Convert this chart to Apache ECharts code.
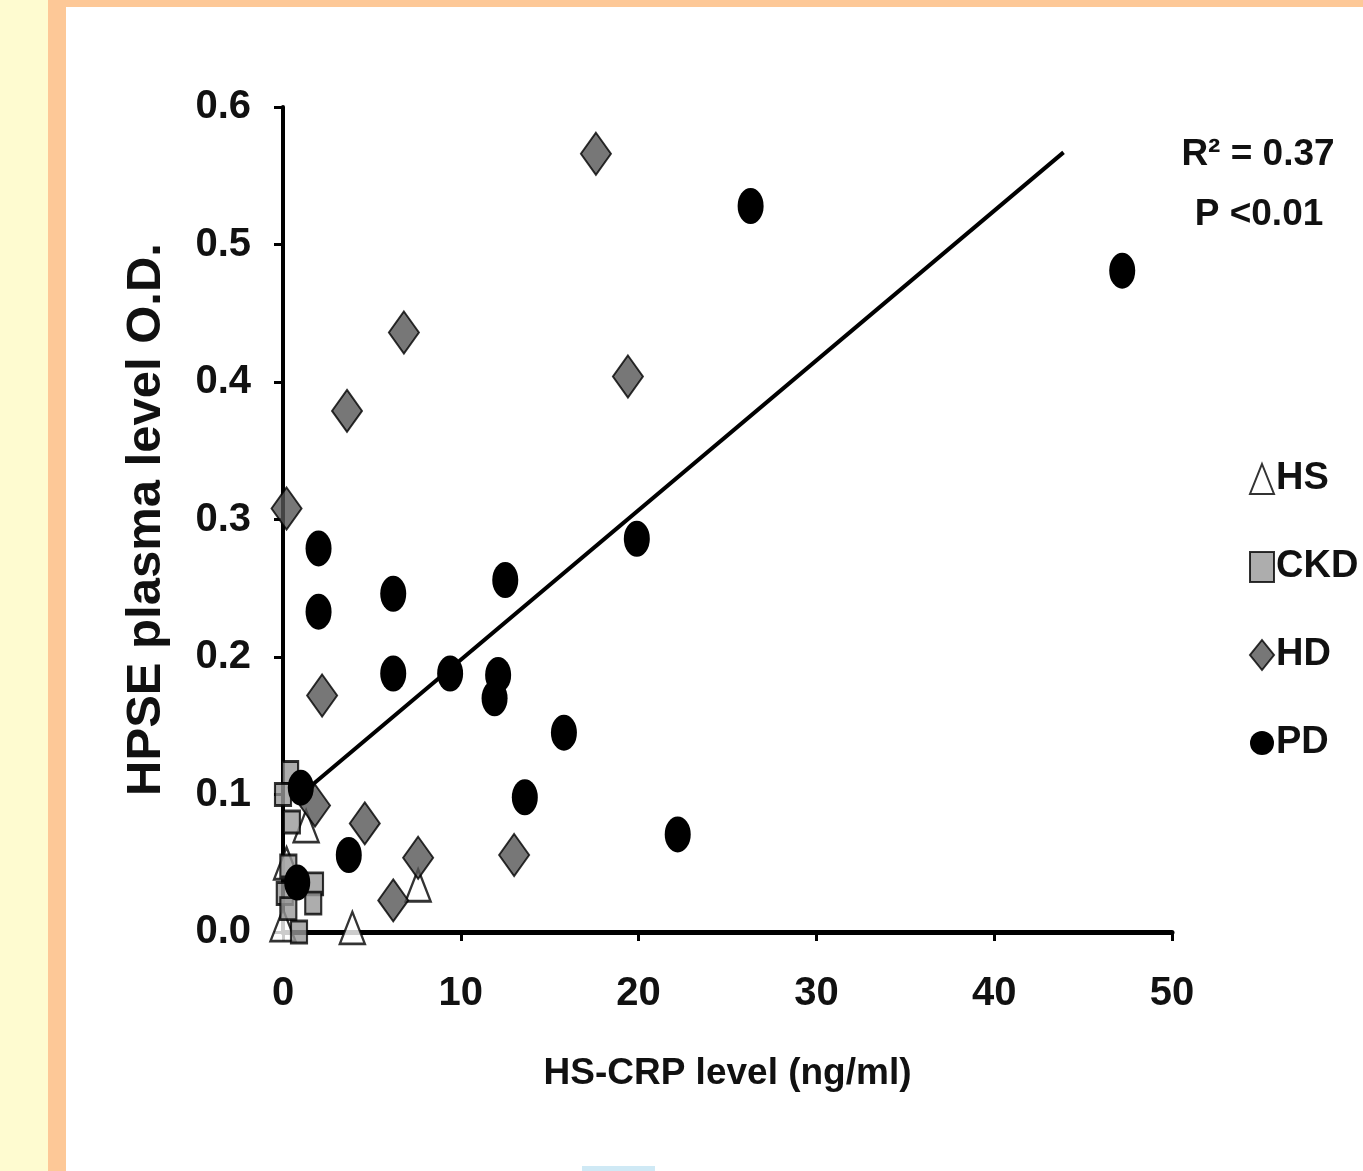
<!DOCTYPE html>
<html>
<head>
<meta charset="utf-8">
<script src="https://cdn.jsdelivr.net/npm/echarts@6/dist/echarts.min.js"></script>
<style>
  html, body { margin: 0; padding: 0; width: 1363px; height: 1171px; overflow: hidden; background: #FEFBD0; }
  #orange { position: absolute; left: 48px; top: 0; width: 1315px; height: 1171px; background: #FDC897; }
  #white { position: absolute; left: 66px; top: 7px; width: 1297px; height: 1164px; background: #FFFFFF; }
  #chart { position: absolute; left: 0; top: 0; width: 1363px; height: 1171px; }
</style>
</head>
<body>
<div id="orange"></div>
<div id="white"></div>
<div id="chart"></div>
<script>
// ---- data (x = HS-CRP ng/ml, y = HPSE O.D.) ----
const seriesNames = ['HS', 'CKD', 'HD', 'PD'];
const hsData = [[0.0, 0.005], [0.2, 0.050], [1.3, 0.077], [3.9, 0.003], [7.6, 0.034]];
const ckdData = [[0.4, 0.116], [0.0, 0.100], [0.5, 0.080], [0.3, 0.048], [0.1, 0.028],
                 [1.8, 0.035], [1.7, 0.021], [0.3, 0.017], [0.9, 0.000]];
const hdData = [[17.6, 0.566], [6.8, 0.436], [3.6, 0.379], [19.4, 0.404], [0.2, 0.308],
                [2.2, 0.172], [1.8, 0.092], [4.6, 0.079], [7.6, 0.054], [13.0, 0.056], [6.2, 0.023]];
const pdData = [[26.3, 0.528], [47.2, 0.481], [2.0, 0.279], [2.0, 0.233], [6.2, 0.246],
                [12.5, 0.256], [19.9, 0.286], [6.2, 0.188], [9.4, 0.188], [12.1, 0.187],
                [11.9, 0.170], [15.8, 0.145], [13.6, 0.098], [22.2, 0.071], [3.7, 0.056],
                [1.0, 0.105], [0.8, 0.036]];
const trendLine = [[1.0, 0.100], [43.9, 0.567]];
const xTicks = [0, 10, 20, 30, 40, 50];
const yTicks = ['0.0', '0.1', '0.2', '0.3', '0.4', '0.5', '0.6'];
const statsText = ['R\u00B2 = 0.37', 'P <0.01'];
const xTitle = 'HS-CRP level (ng/ml)';
const yTitle = 'HPSE plasma level O.D.';

const FONT = '"Liberation Sans", Arial, sans-serif';
const chart = echarts.init(document.getElementById('chart'), null, { renderer: 'canvas' });

const option = {
  backgroundColor: 'transparent',
  animation: false,
  grid: { left: 283, right: 191, top: 107, bottom: 239, containLabel: false },
  xAxis: {
    type: 'value',
    min: xTicks[0], max: xTicks[xTicks.length - 1], interval: 10,
    name: xTitle, nameLocation: 'middle', nameGap: 123,
    nameTextStyle: { fontFamily: FONT, fontWeight: 'bold', fontSize: 37, color: '#111' },
    axisLine: { show: true, lineStyle: { color: '#000', width: 5 } },
    axisTick: { show: true, inside: false, length: 9, lineStyle: { color: '#000', width: 3 } },
    axisLabel: { margin: 42, fontFamily: FONT, fontWeight: 'bold', fontSize: 40, color: '#111',
                 formatter: v => String(v) },
    splitLine: { show: false }
  },
  yAxis: {
    type: 'value',
    min: 0, max: 0.6, interval: 0.1,
    name: yTitle, nameLocation: 'middle', nameGap: 112, nameRotate: 90,
    nameTextStyle: { fontFamily: FONT, fontWeight: 'bold', fontSize: 49, color: '#111' },
    axisLine: { show: true, lineStyle: { color: '#000', width: 4 } },
    axisTick: { show: true, inside: false, length: 9, lineStyle: { color: '#000', width: 3 } },
    axisLabel: { margin: 32, fontFamily: FONT, fontWeight: 'bold', fontSize: 40, color: '#111',
                 formatter: v => yTicks[Math.round(v * 10)] },
    splitLine: { show: false }
  },
  legend: {
    data: seriesNames,
    orient: 'vertical',
    left: 1244, top: 455,
    itemWidth: 24, itemHeight: 30,
    symbolKeepAspect: false,
    itemGap: 50,
    textStyle: { fontFamily: FONT, fontWeight: 'bold', fontSize: 38, lineHeight: 38, color: '#111', padding: [0, 0, 0, -3] }
  },
  graphic: [
    { type: 'text', x: 1258, y: 155, style: { text: statsText[0], font: 'bold 37px ' + FONT, fill: '#111', textAlign: 'center', textVerticalAlign: 'middle' } },
    { type: 'text', x: 1259, y: 215, style: { text: statsText[1], font: 'bold 37px ' + FONT, fill: '#111', textAlign: 'center', textVerticalAlign: 'middle' } },
    { type: 'rect', shape: { x: 582, y: 1166, width: 73, height: 5 }, style: { fill: '#CFE9F5' } }
  ],
  series: [
    {
      name: 'trend', type: 'line', data: trendLine, symbol: 'none', z: 1,
      lineStyle: { color: '#000', width: 4 }, silent: true
    },
    {
      name: 'HS', type: 'scatter', data: hsData, symbol: 'triangle', symbolSize: [25, 32], z: 3,
      itemStyle: { color: '#FFFFFF', borderColor: '#000', borderWidth: 2.5 }
    },
    {
      name: 'CKD', type: 'scatter', data: ckdData, symbol: 'rect', symbolSize: [16, 22], z: 3,
      itemStyle: { color: '#999999', borderColor: '#000', borderWidth: 2.5 }
    },
    {
      name: 'HD', type: 'scatter', data: hdData, symbol: 'diamond', symbolSize: [30, 42], z: 3,
      itemStyle: { color: '#555555', borderColor: '#000', borderWidth: 2 }
    },
    {
      name: 'PD', type: 'scatter', data: pdData, symbol: 'circle', symbolSize: [26, 36], z: 3,
      itemStyle: { color: '#000000', borderColor: '#000', borderWidth: 0, opacity: 1 }
    }
  ]
};
chart.setOption(option);
</script>
</body>
</html>
